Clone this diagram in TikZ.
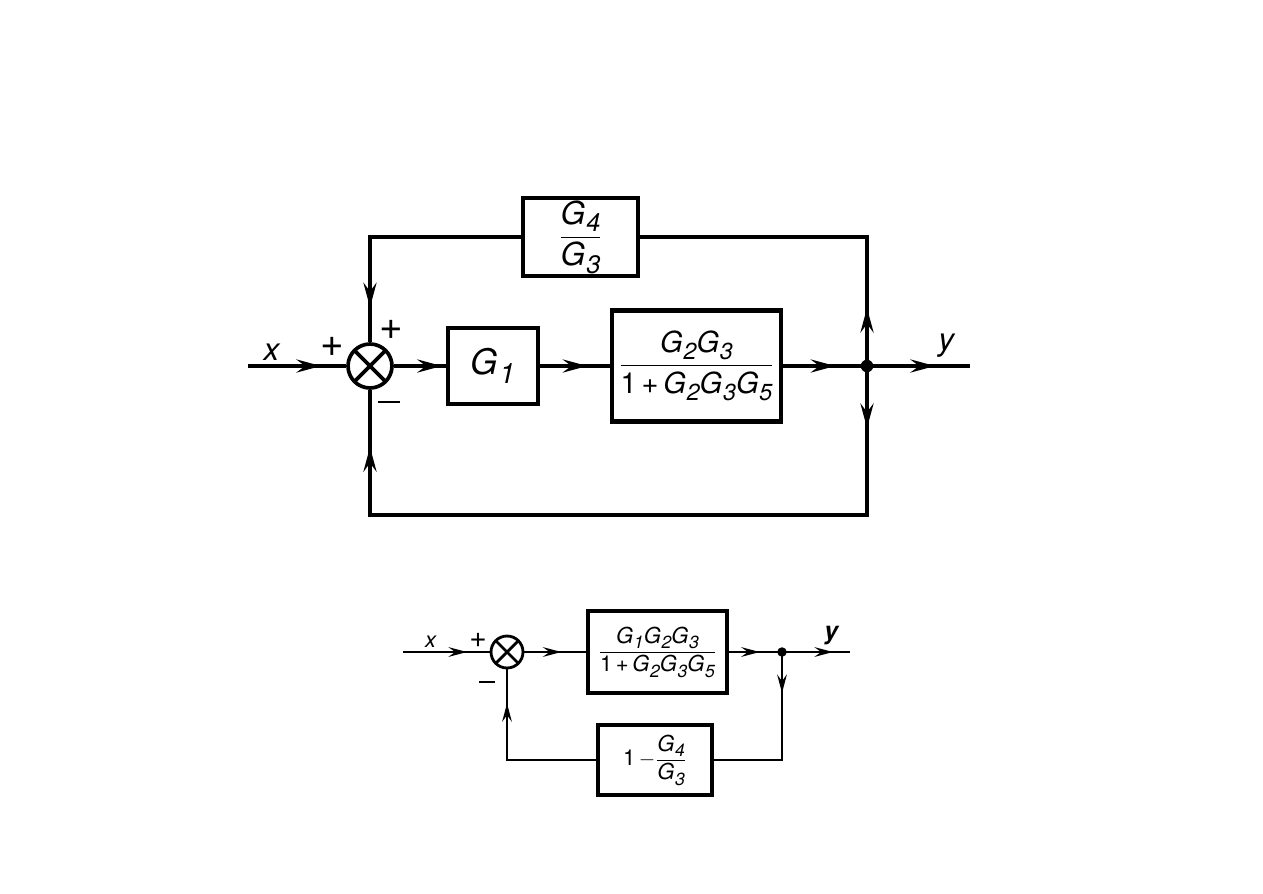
\documentclass[tikz,border=0pt]{standalone}
\usepackage{fontspec}
\setmainfont{TeX Gyre Heros}
\usepackage{amsmath}
\usepackage{graphicx}
\usetikzlibrary{arrows.meta,decorations.markings}
\newcommand\Gi[1]{\textit{G\kern0.03em\raisebox{-0.45ex}{\scalebox{0.8}{#1}}}}
\tikzset{
  line/.style={line width=1.9pt},
  linesm/.style={line width=1.4pt},
  blk/.style={draw, line width=2.6pt, inner sep=0pt, fill=white},
  blksm/.style={draw, line width=2pt, inner sep=0pt, fill=white},
  sumj/.style={draw, circle, line width=#1, inner sep=0pt,
    path picture={\draw[line width=#1] (path picture bounding box.north west) -- (path picture bounding box.south east)
      (path picture bounding box.north east) -- (path picture bounding box.south west);}},
  junc/.style={circle, fill, inner sep=0pt, minimum size=#1},
  bigA/.tip={Stealth[length=14pt,width=7.5pt,inset=5pt]},
  smA/.tip={Stealth[length=10.5pt,width=5.5pt,inset=3.8pt]},
  tipA/.style={postaction={decorate}, decoration={markings, mark=at position #1 with {\arrow{bigA}}}},
  tipAA/.style 2 args={postaction={decorate}, decoration={markings,
      mark=at position #1 with {\arrow{bigA}}, mark=at position #2 with {\arrow{bigA}}}},
  tipB/.style={postaction={decorate}, decoration={markings, mark=at position #1 with {\arrow{smA}}}},
  lbl/.style={inner sep=0pt, font=\fontsize{18}{21}\selectfont},
  lblsm/.style={inner sep=0pt, font=\fontsize{12.5}{15}\selectfont},
}
\begin{document}
\begin{tikzpicture}[x=0.02cm, y=-0.02cm]
\useasboundingbox[fill=white] (0,0) rectangle (1263,893);

% ---------------- top diagram ----------------
\node[blk, minimum width=2.3cm, minimum height=1.56cm, font=\fontsize{18}{21}\selectfont] (g4) at (580.5,237)
  {$\dfrac{\mbox{\Gi4}}{\mbox{\Gi3}}$};
\node[sumj=2.1pt, minimum size=0.88cm] (s1) at (370,366) {};
\node[blk, minimum width=1.8cm, minimum height=1.52cm, font=\fontsize{20}{24}\selectfont] (g1) at (493,366) {\Gi1};
\node[blk, minimum width=3.38cm, minimum height=2.22cm, font=\fontsize{16.5}{19}\selectfont] (g23) at (696.5,366)
  {$\dfrac{\mbox{\Gi2\Gi3}}{\mbox{1\,+\,\Gi2\Gi3\Gi5}}$};
\node[junc=0.25cm] (d1) at (867,366) {};
\coordinate (xin) at (248,366);
\coordinate (yout) at (970,366);
\coordinate (br) at (867,515);

\draw[line, tipA=1.46cm] (xin) -- (s1.west);
\draw[line, tipA=0.96cm] (s1.east) -- (g1.west);
\draw[line, tipA=0.94cm] (g1.east) -- (g23.west);
\draw[line, tipA=1.04cm] (g23.east) -- (d1.center);
\draw[line, tipA=1.36cm] (d1.center) -- (yout);
\draw[line, tipA=1.16cm] (d1.center) |- (g4.east);
\draw[line, tipA=4.42cm] (g4.west) -| (s1.north);
\draw[line, tipAA={1.24cm}{14.28cm}] (d1.center) -- (br) -| (s1.south);

\node[lbl] (lx) at (272,352) {\textit{x}};
\node[lbl] (ly) at (947,346) {\textit{y}};
\node[lbl, font=\fontsize{23}{26}\selectfont] (p1) at (332,347) {+};
\node[lbl, font=\fontsize{23}{26}\selectfont] (p2) at (391,330) {+};
\node[lbl] (m1) at (389,402) {\rule{12pt}{1.5pt}};

% ---------------- bottom diagram ----------------
\node[sumj=1.6pt, minimum size=0.64cm] (s2) at (507,652) {};
\node[blksm, minimum width=2.78cm, minimum height=1.64cm, font=\fontsize{12.5}{15}\selectfont] (b2) at (657.5,652)
  {$\dfrac{\mbox{\Gi1\Gi2\Gi3}}{\mbox{1\,+\,\Gi2\Gi3\Gi5}}$};
\node[blksm, minimum width=2.28cm, minimum height=1.4cm, font=\fontsize{12.5}{15}\selectfont] (fb) at (655,760)
  {\mbox{1}$\,-\dfrac{\mbox{\Gi4}}{\mbox{\Gi3}}$};
\node[junc=0.19cm] (d2) at (782,652) {};
\coordinate (xin2) at (403,652);
\coordinate (yout2) at (850,652);
\coordinate (br2) at (782,760);

\draw[linesm, tipB=1.28cm] (xin2) -- (s2.west);
\draw[linesm, tipB=0.74cm] (s2.east) -- (b2.west);
\draw[linesm, tipB=0.62cm] (b2.east) -- (d2.center);
\draw[linesm, tipB=1.02cm] (d2.center) -- (yout2);
\draw[linesm, tipB=0.82cm] (d2.center) -- (br2) -- (fb.east);
\draw[linesm, tipB=2.92cm] (fb.west) -| (s2.south);

\node[lblsm] (lx2) at (431,642) {\textit{x}};
\node[lblsm, font=\fontsize{14}{16}\selectfont] (ly2) at (832,636) {\textbf{\textit{y}}};
\node[lblsm, font=\fontsize{17}{19}\selectfont] (p3) at (478,640) {+};
\node[lblsm] (m2) at (487,682) {\rule{9pt}{1.2pt}};
\end{tikzpicture}
\end{document}
